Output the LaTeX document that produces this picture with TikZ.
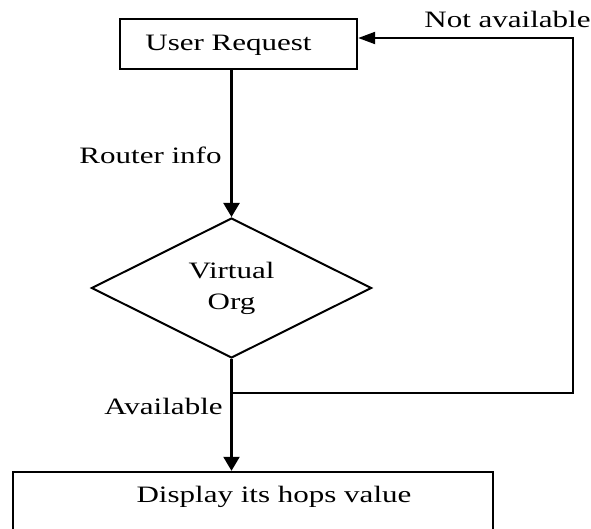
\documentclass[tikz,border=0pt]{standalone}
\usepackage{fontspec}
\setmainfont[FakeStretch=1.32]{Liberation Serif}
\usetikzlibrary{arrows.meta,shapes.geometric}

\begin{document}
\begin{tikzpicture}[x=1pt,y=-1pt,
  lbl/.style={font=\fontsize{23.5}{31}\selectfont, inner sep=0pt},
  procbox/.style={draw, line width=2.4pt, rectangle, inner sep=0pt},
  decision/.style={draw, line width=2pt, diamond, inner sep=0pt},
  flow/.style={line width=2.2pt},
  vtip/.style={-{Triangle[length=14pt,width=16pt]}},
  htip/.style={-{Triangle[length=17pt,width=12pt]}}
]
\useasboundingbox (0,0) rectangle (591,529);
\clip (0,0) rectangle (591,529);

% process boxes and decision
\node[procbox, minimum width=237pt, minimum height=50pt] (req) at (238.5,44) {};
\node[lbl, anchor=base] (reqtxt) at (228.5,51) {User Request};

\node[decision, minimum width=280pt, minimum height=140pt] (vo) at (231.5,288) {};
\node[lbl, anchor=base] (votxta) at (231.5,278) {Virtual};
\node[lbl, anchor=base] (votxtb) at (231.5,309) {Org};

\node[procbox, minimum width=480pt, minimum height=88pt] (disp) at (253,516) {};
\node[lbl, anchor=base] (disptxt) at (274,502) {Display its hops value};

% edge labels
\node[lbl, anchor=base] (router) at (150.5,164) {Router info};
\node[lbl, anchor=base] (navail) at (507.5,28) {Not available};
\node[lbl, anchor=base] (avail) at (163.5,414) {Available};

% loop-back corners
\coordinate (br) at (573,393);
\coordinate (tr) at (573,38);
\coordinate (split) at (vo.south |- br);

% connectors
\draw[flow, vtip] (req.south -| vo.north) -- (vo.north);
\draw[flow, vtip] (vo.south) -- (disp.north -| vo.south);
\draw[flow, htip] (split) -- (br) -- (tr) -- (req.east |- tr);
\end{tikzpicture}
\end{document}
